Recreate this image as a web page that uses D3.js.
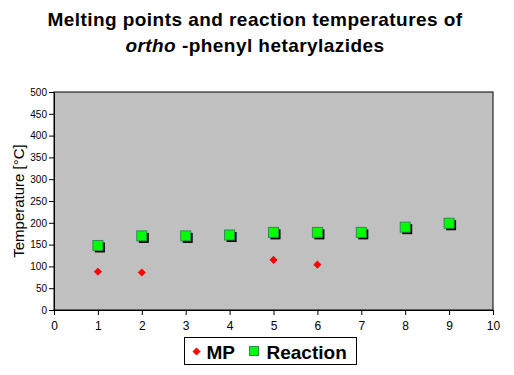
<!DOCTYPE html>
<html>
<head>
<meta charset="utf-8">
<script src="https://cdn.jsdelivr.net/npm/d3@7"></script>
<style>
  body { margin: 0; background: #fff; }
  text { font-family: "Liberation Sans", Arial, sans-serif; }
</style>
</head>
<body>
<svg width="514" height="375"></svg>
<script>
// data
var compounds = [1, 2, 3, 4, 5, 6, 7, 8, 9];
var mpX = [1, 2, 5, 6];
var mpValues = [88, 86, 115, 104];
var reactionValues = [148, 170, 170, 172, 178, 178, 178, 190, 199];
var yTicks = [0, 50, 100, 150, 200, 250, 300, 350, 400, 450, 500];
var xTicks = [0, 1, 2, 3, 4, 5, 6, 7, 8, 9, 10];

var svg = d3.select("svg"),
    margin = {top: 92, right: 21, bottom: 65, left: 54},
    width = +svg.attr("width") - margin.left - margin.right,
    height = +svg.attr("height") - margin.top - margin.bottom;

var xScale = d3.scaleLinear().domain([0, 10]).range([0, width]),
    yScale = d3.scaleLinear().domain([0, 500]).range([height, 0]);

// title, two lines
svg.append("text")
    .attr("x", 255).attr("y", 26)
    .attr("text-anchor", "middle")
    .style("font-size", "19px")
    .style("font-weight", "bold")
    .style("letter-spacing", "0.45px")
    .text("Melting points and reaction temperatures of");
var line2 = svg.append("text")
    .attr("x", 255).attr("y", 52)
    .attr("text-anchor", "middle")
    .style("font-size", "19px")
    .style("font-weight", "bold")
    .style("letter-spacing", "0.45px");
line2.append("tspan").style("font-style", "italic").text("ortho");
line2.append("tspan").text(" -phenyl hetarylazides");

var g = svg.append("g")
    .attr("transform", "translate(" + margin.left + "," + margin.top + ")");

g.append("rect")
    .attr("width", width)
    .attr("height", height)
    .attr("fill", "#c0c0c0")
    .attr("stroke", "#000")
    .attr("stroke-width", 1);

// axes
var yAxis = g.append("g")
    .call(d3.axisLeft(yScale).tickValues(yTicks).tickSize(5).tickSizeOuter(0).tickPadding(2));
yAxis.selectAll("text").style("font-size", "10px").attr("fill", "#000");

var xAxis = g.append("g")
    .attr("transform", "translate(0," + height + ")")
    .call(d3.axisBottom(xScale).tickValues(xTicks).tickSize(5).tickSizeOuter(0).tickPadding(6));
xAxis.selectAll("text").style("font-size", "12px").attr("fill", "#000");

svg.append("text")
    .attr("transform", "translate(24," + (margin.top + height / 2) + ") rotate(-90)")
    .attr("text-anchor", "middle")
    .style("font-size", "15px")
    .text("Temperature [°C]");

// Reaction squares with a black shadow
var sq = 10;
g.selectAll(".shadow")
    .data(reactionValues)
    .enter().append("rect")
    .attr("x", function(d, i) { return xScale(compounds[i]) - sq / 2 + 2; })
    .attr("y", function(d) { return yScale(d) - sq / 2 + 2; })
    .attr("width", sq).attr("height", sq)
    .attr("fill", "#000");
g.selectAll(".reaction")
    .data(reactionValues)
    .enter().append("rect")
    .attr("x", function(d, i) { return xScale(compounds[i]) - sq / 2; })
    .attr("y", function(d) { return yScale(d) - sq / 2; })
    .attr("width", sq).attr("height", sq)
    .attr("fill", "#00ff00")
    .attr("stroke", "#2e8b57")
    .attr("stroke-width", 1);

// MP diamonds
var diamond = d3.symbol().type(d3.symbolSquare).size(26);
g.selectAll(".mp")
    .data(mpValues)
    .enter().append("path")
    .attr("d", diamond)
    .attr("transform", function(d, i) {
        return "translate(" + xScale(mpX[i]) + "," + yScale(d) + ") rotate(45)";
    })
    .attr("fill", "#ff0000")
    .attr("stroke", "#ff0000")
    .attr("stroke-width", 0.8);

// legend
var lg = svg.append("g").attr("transform", "translate(184.5,337.5)");
lg.append("rect").attr("width", 172).attr("height", 27)
    .attr("fill", "#fff").attr("stroke", "#000");
lg.append("path").attr("d", diamond)
    .attr("transform", "translate(12,14) rotate(45)")
    .attr("fill", "#ff0000").attr("stroke", "#ff0000").attr("stroke-width", 0.8);
lg.append("text").attr("x", 22).attr("y", 21)
    .style("font-size", "19px").style("font-weight", "bold").text("MP");
lg.append("rect").attr("x", 65).attr("y", 9).attr("width", 9).attr("height", 9)
    .attr("fill", "#00ff00").attr("stroke", "#2e8b57");
lg.append("text").attr("x", 82).attr("y", 21)
    .style("font-size", "19px").style("font-weight", "bold").text("Reaction");
</script>
</body>
</html>
